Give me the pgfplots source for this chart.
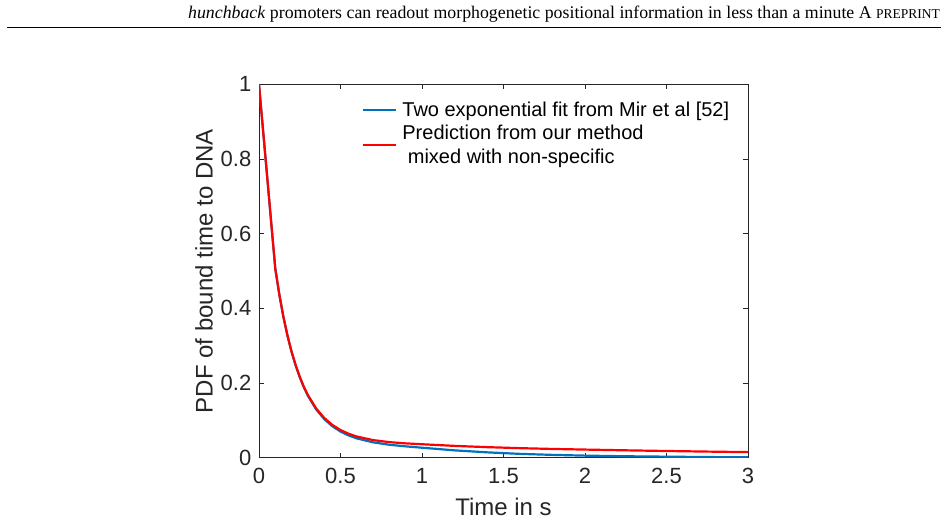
\documentclass[border=0pt]{standalone}
\usepackage{pgfplots}
\pgfplotsset{compat=1.18}
\usepackage{fontspec}
\setmainfont{Liberation Sans}
\newfontfamily\serif{Liberation Serif}
\definecolor{mblue}{rgb}{0,0.447,0.741}
\definecolor{axgray}{rgb}{0.15,0.15,0.15}
\begin{document}
\begin{tikzpicture}[x=1bp,y=1bp]
\useasboundingbox (0,0) rectangle (948,524);
\node[anchor=base east, inner sep=0pt, font=\serif\fontsize{17.8bp}{20bp}\selectfont] at (940,505)
  {\textit{hunchback} promoters can readout morphogenetic positional information in less than a minute A {\fontsize{13.5bp}{15bp}\selectfont PREPRINT}};
\draw[line width=1bp] (7,496) -- (941,496);
\begin{axis}[
  at={(259bp,66.2bp)}, anchor=south west, scale only axis,
  width=489bp, height=373.5bp,
  xmin=0, xmax=3, ymin=0, ymax=1,
  xtick={0,0.5,1,1.5,2,2.5,3}, ytick={0,0.2,0.4,0.6,0.8,1},
  /pgf/number format/assume math mode=true,
  tick align=inside, major tick length=5bp,
  axis line style={axgray, line width=0.8bp},
  tick style={axgray, line width=0.8bp},
  ticklabel style={font=\fontsize{22bp}{26bp}\selectfont, text=axgray},
  xticklabel style={inner sep=0pt, yshift=-10.5bp},
  yticklabel style={inner sep=0pt, xshift=-7.5bp},
  xlabel={Time in s},
  ylabel={PDF of bound time to DNA},
  every axis x label/.style={at={(axis description cs:0.5,-0.1317)}, anchor=center, font=\fontsize{24bp}{28bp}\selectfont, text=axgray, inner sep=0pt},
  every axis y label/.style={at={(axis description cs:-0.1125,0.5)}, rotate=90, anchor=center, font=\fontsize{24bp}{28bp}\selectfont, text=axgray, inner sep=0pt},
  legend image code/.code={\draw[#1] (0bp,0bp) -- (33bp,0bp);},
  legend style={draw=none, fill=none, at={(axis description cs:0.2106,0.955)}, anchor=north west,
    font=\fontsize{20bp}{24bp}\selectfont, inner sep=0pt, column sep=4bp, row sep=5bp,
    nodes={inner sep=1bp}},
  legend cell align=left,
  legend style={cells={align=left}},
]
\addplot[mblue, line width=2.2bp] coordinates {
(0,1) (0.025,0.876) (0.05,0.753) (0.075,0.629) (0.1,0.506) (0.125,0.436) (0.15,0.376)
(0.175,0.326) (0.2,0.283) (0.225,0.247) (0.25,0.2157) (0.275,0.189) (0.3,0.1659)
(0.35,0.130) (0.4,0.1037) (0.45,0.0845) (0.5,0.0703) (0.55,0.0598) (0.6,0.0519)
(0.7,0.0414) (0.8,0.0349) (0.9,0.0306) (1.0,0.0270) (1.2,0.0199) (1.4,0.0146)
(1.6,0.0105) (1.8,0.0078) (2.0,0.0058) (2.25,0.0041) (2.5,0.0030) (2.75,0.0020) (3.0,0.0013)
};
\addlegendentry{Two exponential fit from Mir et al [52]}
\addplot[red, line width=2.2bp] coordinates {
(0,1) (0.025,0.876) (0.05,0.753) (0.075,0.629) (0.1,0.506) (0.125,0.4365) (0.15,0.377)
(0.175,0.327) (0.2,0.284) (0.225,0.248) (0.25,0.2167) (0.275,0.190) (0.3,0.168)
(0.35,0.1325) (0.4,0.1067) (0.45,0.088) (0.5,0.0743) (0.55,0.0643) (0.6,0.0569)
(0.7,0.0474) (0.8,0.0419) (0.9,0.0386) (1.0,0.0363) (1.2,0.0319) (1.4,0.0285)
(1.6,0.0258) (1.8,0.0237) (2.0,0.0220) (2.25,0.0200) (2.5,0.0182) (2.75,0.0166) (3.0,0.0152)
};
\addlegendentry{Prediction from our method\\\hspace*{5.5bp}mixed with non-specific}
\end{axis}
\end{tikzpicture}
\end{document}
